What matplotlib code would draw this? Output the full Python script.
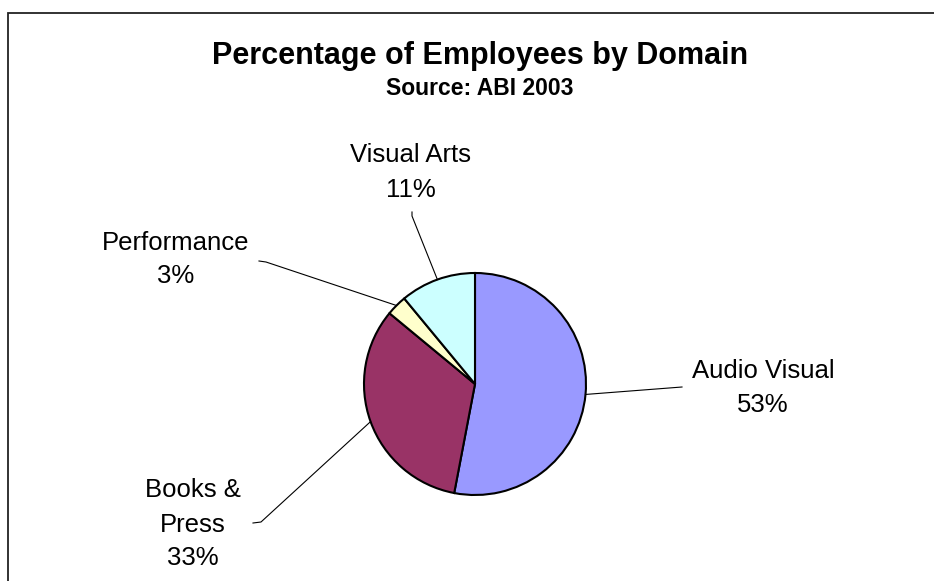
import matplotlib
matplotlib.use('Agg')
import matplotlib.pyplot as plt
import numpy as np

# --- DATA ---
domains = ['Audio Visual', 'Books & Press', 'Performance', 'Visual Arts']
shares = [53, 33, 3, 11]
colors = ['#9999FF', '#993366', '#FFFFCC', '#CCFFFF']
title = 'Percentage of Employees by Domain'
subtitle = 'Source: ABI 2003'

# --- LAYOUT (pixels, y measured from the top of the image) ---
W, H = 934, 581
PIE_CENTER = (475, 384)
PIE_RADIUS = 111

# label text lines, x centre, baselines, leader elbow + end
label_layout = {
    'Audio Visual':  dict(lines=['Audio Visual'], x=763, base=[378, 412],
                          path=[(682, 387)]),
    'Books & Press': dict(lines=['Books &', 'Press'], x=193, base=[497, 532, 565],
                          path=[(261, 522), (253, 523)]),
    'Performance':   dict(lines=['Performance'], x=176, base=[250, 283],
                          path=[(266, 262), (259, 261)]),
    'Visual Arts':   dict(lines=['Visual Arts'], x=411, base=[162, 197],
                          path=[(412, 216), (412, 212)]),
}

plt.rcParams['font.family'] = ['Liberation Sans', 'DejaVu Sans']


def Y(y):
    # image y (from top) -> data y (from bottom)
    return H - y


fig = plt.figure(figsize=(W / 100, H / 100), dpi=100)
ax = fig.add_axes([0, 0, 1, 1])

wedges, _ = ax.pie(shares, colors=colors, startangle=90, counterclock=False,
                   radius=PIE_RADIUS, center=(PIE_CENTER[0], Y(PIE_CENTER[1])),
                   wedgeprops=dict(edgecolor='black', linewidth=1.5))

ax.set_xlim(0, W)
ax.set_ylim(0, H)
ax.set_aspect('equal')
ax.axis('off')

# outer frame (left and top edges visible, rest cut off)
ax.plot([8, 8, 934], [0, Y(13), Y(13)], color='#222222', lw=1.3,
        solid_joinstyle='miter', clip_on=False)

# titles
ax.text(480, Y(64), title, ha='center', va='baseline',
        fontsize=22, fontweight='bold')
ax.text(480, Y(95), subtitle, ha='center', va='baseline',
        fontsize=16.5, fontweight='bold')

# labels with leader lines
for w, name, share in zip(wedges, domains, shares):
    lay = label_layout[name]
    mid = np.deg2rad((w.theta1 + w.theta2) / 2)
    cx, cy = w.center
    xs = [cx + w.r * np.cos(mid)] + [p[0] for p in lay['path']]
    ys = [cy + w.r * np.sin(mid)] + [Y(p[1]) for p in lay['path']]
    ax.plot(xs, ys, color='black', lw=0.8)

    text_lines = lay['lines'] + [f'{share}%']
    for line, b in zip(text_lines, lay['base']):
        ax.text(lay['x'], Y(b), line, ha='center', va='baseline', fontsize=18.5)

fig.savefig('out.png', dpi=100)
